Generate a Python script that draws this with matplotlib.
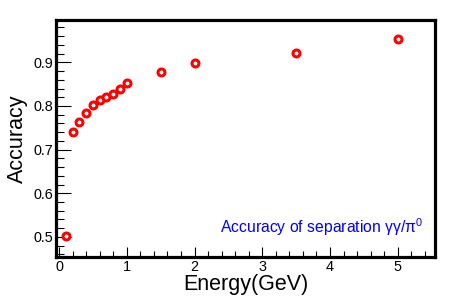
import matplotlib
matplotlib.use("Agg")
import matplotlib.pyplot as plt
from matplotlib.ticker import MultipleLocator

plt.rcParams["font.family"] = ["Liberation Sans", "DejaVu Sans"]
plt.rcParams["mathtext.fontset"] = "custom"
plt.rcParams["mathtext.rm"] = "Liberation Sans"
plt.rcParams["mathtext.it"] = "Liberation Sans"

# data
energy = [0.1, 0.2, 0.3, 0.4, 0.5, 0.6, 0.7, 0.8, 0.9, 1.0, 1.5, 2.0, 3.5, 5.0]
accuracy = [0.503, 0.740, 0.764, 0.785, 0.802, 0.813, 0.821, 0.827, 0.840, 0.852,
            0.877, 0.898, 0.922, 0.953]
x_label = "Energy(GeV)"
y_label = "Accuracy"
note = r"Accuracy of separation $\mathrm{\gamma\gamma/\pi^{0}}$"

fig = plt.figure(figsize=(4.73, 2.96), dpi=100)
ax = fig.add_axes([56 / 473, 1 - 257 / 296, (435 - 56) / 473, (257 - 20) / 296])

ax.plot(energy, accuracy, "o", ms=5.0, mfc="white", mec="#ff0000", mew=2.2, ls="none")

ax.set_xlim(-0.045, 5.55)
ax.set_ylim(0.454, 0.997)

ax.xaxis.set_major_locator(MultipleLocator(1))
ax.xaxis.set_minor_locator(MultipleLocator(0.2))
ax.yaxis.set_major_locator(MultipleLocator(0.1))
ax.yaxis.set_minor_locator(MultipleLocator(0.02))
ax.yaxis.set_major_formatter(plt.FuncFormatter(lambda v, p: f"{v:.1f}"))

ax.tick_params(which="both", direction="in", top=False, right=False,
               labelsize=10.4, width=0.8, color="black")
ax.tick_params(which="major", length=7, pad=2)
ax.tick_params(which="minor", length=4)
ax.tick_params(axis="y", which="major", length=11)
ax.tick_params(axis="y", which="minor", length=6)

for s in ax.spines.values():
    s.set_linewidth(2.3)

ax.set_xlabel(x_label, fontsize=15.5, labelpad=0)
ax.set_ylabel(y_label, fontsize=15.5, labelpad=4)

ax.text(0.97, 0.127, note, transform=ax.transAxes, ha="right", va="center",
        color="#0000ff", fontsize=11.3)

fig.savefig("out.png", dpi=100)
